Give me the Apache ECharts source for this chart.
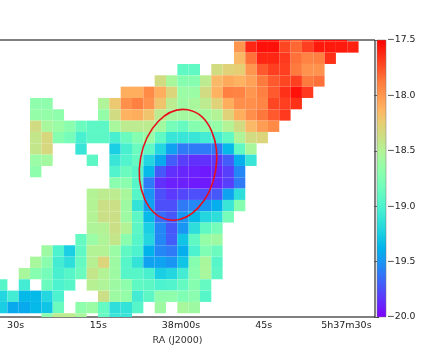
<!DOCTYPE html>
<html>
<head>
<meta charset="utf-8">
<script src="https://cdn.jsdelivr.net/npm/echarts@6/dist/echarts.min.js"></script>
<style>
  html, body { margin: 0; padding: 0; background: #fff; }
  #main { width: 436px; height: 357px; }
</style>
</head>
<body>
<div id="main"></div>
<script>
//first filled column of each row, first row is the one cut off by the top of the frame
var rowFirstRow = -1;
var rowStart = [23, 21, 21, 16, 14, 11, 3, 3, 3, 3, 3, 3, 3, 10, 8, 8, 8, 8, 7, 4, 3, 2, 0, 0, 0, 4];

//column density per cell, null = nothing measured
var rowValues = [
  [-17.55, -17.55, -17.72, -17.8, -17.7, -17.55, -17.55, -17.55],
  [-18.0, -17.62, -17.55, -17.55, -17.72, -17.82, -17.7, -17.58, -17.58, -17.58, -17.6],
  [-18.15, -17.85, -17.62, -17.62, -17.68, -17.85, -17.92, -17.9, -17.65],
  [-18.9, -18.9, null, -18.35, -18.28, -18.25, -18.0, -17.78, -17.7, -17.7, -17.88, -17.98, -17.98],
  [-18.35, -18.55, -18.72, -18.72, -18.45, -18.15, -18.08, -18.12, -18.05, -17.88, -17.78, -17.72, -17.7, -17.88, -17.85],
  [-18.1, -18.1, -17.95, -18.1, -18.3, -18.62, -18.62, -18.35, -18.12, -17.9, -17.92, -18.0, -17.9, -17.78, -17.65, -17.55, -17.68],
  [-18.68, -18.68, null, null, null, null, -18.52, -18.22, -17.97, -17.9, -17.98, -18.2, -18.45, -18.6, -18.55, -18.45, -18.28, -18.1, -17.97, -17.97, -17.93, -17.72, -17.7, -17.65],
  [-18.65, -18.65, -18.68, null, null, null, -18.65, -18.35, -18.12, -18.1, -18.2, -18.45, -18.55, -18.58, -18.55, -18.58, -18.5, -18.28, -18.1, -17.97, -17.87, -17.78, -17.68],
  [-18.35, -18.55, -18.62, -18.7, -18.85, -18.92, -18.92, -18.55, -18.45, -18.45, -18.45, -18.58, -18.8, -18.87, -18.72, -18.68, -18.65, -18.5, -18.35, -18.15, -18.03, -17.95],
  [-18.42, -18.32, -18.72, -18.8, -19.02, -18.92, -18.92, -19.02, -18.85, -18.72, -18.62, -18.9, -19.1, -19.1, -19.1, -19.05, -19.05, -18.9, -18.52, -18.35, -18.3],
  [-18.42, -18.32, null, null, -19.1, null, null, -19.25, -19.02, -18.85, -18.9, -19.2, -19.45, -19.6, -19.6, -19.6, -19.6, -19.35, -18.9, -18.55],
  [-18.62, -18.58, null, null, null, -18.92, null, -19.1, -18.98, -18.88, -19.2, -19.42, -19.7, -19.8, -19.85, -19.85, -19.82, -19.7, -19.4, -19.1],
  [-18.68, null, null, null, null, null, null, -18.98, -18.85, -18.95, -19.35, -19.72, -19.85, -19.88, -19.9, -19.92, -19.88, -19.8, -19.55],
  [-18.7, -18.7, -18.95, -19.6, -19.85, -19.9, -19.9, -19.92, -19.92, -19.88, -19.8, -19.6],
  [-18.5, -18.45, -18.45, -18.55, -18.95, -19.5, -19.75, -19.82, -19.78, -19.75, -19.75, -19.72, -19.45, -19.15],
  [-18.5, -18.38, -18.38, -18.6, -19.12, -19.45, -19.75, -19.75, -19.6, -19.55, -19.5, -19.4, -19.1, -18.72],
  [-18.5, -18.38, -18.38, -18.6, -18.92, -19.35, -19.65, -19.72, -19.5, -19.35, -19.2, -19.15, -18.8],
  [-18.52, -18.5, -18.38, -18.5, -18.92, -19.25, -19.55, -19.72, -19.5, -19.15, -18.9, -18.8],
  [-18.88, -18.62, -18.52, -18.42, -18.7, -18.95, -19.2, -19.55, -19.7, -19.3, -18.9, -18.65, -18.6],
  [-18.6, -19.0, -19.25, -18.9, -18.5, -18.5, -18.62, -18.9, -19.0, -19.38, -19.55, -19.6, -19.4, -19.0, -18.75, -18.85],
  [-18.55, -18.7, -19.05, -19.15, -18.88, -18.48, -18.3, -18.6, -18.95, -19.12, -19.45, -19.45, -19.5, -19.3, -18.72, -18.55, -18.95],
  [-18.55, -18.72, -18.8, -19.02, -18.95, -18.85, -18.42, -18.5, -18.6, -18.95, -18.95, -19.02, -19.25, -19.2, -19.05, -18.7, -18.55, -18.92],
  [-18.95, null, -19.05, null, -18.85, -19.0, -18.95, null, -18.48, -18.52, -18.6, -18.68, -18.9, -18.92, -19.0, -18.98, -18.88, -18.72, -18.88],
  [-19.2, -19.05, -19.35, -19.35, -19.2, -19.0, null, null, null, -18.38, -18.6, -18.65, -19.05, -18.92, -18.68, -18.68, -18.75, -18.7, -18.95],
  [-19.25, -19.42, -19.42, -19.35, -19.3, -18.85, null, -18.68, -18.62, -18.88, -19.15, -19.12, -18.95, null, -18.6, null, -18.55, -18.6],
  [-18.7, -18.45, -18.45, -18.55, null, -18.88, -19.1, -19.1]
];

//RA 坐标轴，以 5h38m00s 为 0，单位秒，向右减小
var raTicks = [30, 15, 0, -15, -30];
var raTickLabels = ['30s', '15s', '38m00s', '45s', '5h37m30s'];
var raLeftEdge = 33.55;
var raPerColumn = 2.055;

var colorTicks = [-17.5, -18, -18.5, -19, -19.5, -20];

//旋转椭圆：RA 秒、行号、半轴（列宽/行高）、旋转角
var ellipseCenter = [0.54, 10.9];
var ellipseRadius = [3.36, 4.93];
var ellipseTilt = -10;

var rainbow = ['#8000ff', '#6628fe', '#4d4ffb', '#3373f8', '#1996f3', '#00b4eb', '#1acee3', '#33e2d8', '#4df3ce', '#66fac0',
  '#80ffb4', '#99fca5', '#b3f396', '#ccdf85', '#e6ce74', '#ffb462', '#ff964f', '#ff7a3c', '#ff4f28', '#ff2814', '#ff0000'];

var cells = [];
rowValues.forEach(function (vals, i) {
  vals.forEach(function (v, j) {
    if (v === null) return;
    var col = rowStart[i] + j;
    cells.push([raLeftEdge - col * raPerColumn, rowFirstRow + i, v]);
  });
});

function renderCell(params, api) {
  var start = api.coord([api.value(0), api.value(1)]);
  var end = api.coord([api.value(0) - raPerColumn, api.value(1) + 1]);
  var rect = echarts.graphic.clipRectByRect({
    x: start[0], y: start[1], width: end[0] - start[0], height: end[1] - start[1]
  }, params.coordSys);
  return rect && {
    type: 'rect',
    shape: rect,
    style: { fill: api.visual('color') }
  };
}

function renderEllipse(params, api) {
  var c = api.coord([api.value(0), api.value(1)]);
  var s = api.size([raPerColumn, 1]);
  return {
    type: 'ellipse',
    x: c[0], y: c[1],
    rotation: api.value(2) * Math.PI / 180,
    shape: { cx: 0, cy: 0, rx: ellipseRadius[0] * s[0], ry: ellipseRadius[1] * s[1] },
    style: { fill: 'none', stroke: '#e8101c', lineWidth: 1.6 }
  };
}

//色标：用 rainbow 做渐变，位置由第二个 grid 决定
function renderBar(params, api) {
  var top = api.coord([0, colorTicks[0]]);
  var bottom = api.coord([1, colorTicks[colorTicks.length - 1]]);
  var stops = rainbow.map(function (c, i) {
    return { offset: 1 - i / (rainbow.length - 1), color: c };
  }).reverse();
  return {
    type: 'rect',
    shape: { x: top[0], y: top[1], width: bottom[0] - top[0], height: bottom[1] - top[1] },
    style: { fill: new echarts.graphic.LinearGradient(0, 0, 0, 1, stops), stroke: '#777', lineWidth: 0.5 }
  };
}

var font = 'DejaVu Sans';
var chart = echarts.init(document.getElementById('main'), null, { renderer: 'canvas' });
chart.setOption({
  animation: false,
  textStyle: { fontFamily: font },
  grid: [
    { left: -2, top: 40, width: 377, height: 277, show: true, backgroundColor: '#fff', borderColor: '#000', borderWidth: 1, outerBoundsMode: 'none' },
    { left: 377, top: 40, width: 9, height: 277, outerBoundsMode: 'none' }
  ],
  xAxis: [
    {
      type: 'value', gridIndex: 0, inverse: true, min: -35.19, max: 33.2,
      name: 'RA (J2000)', nameLocation: 'middle', nameGap: 15,
      nameTextStyle: { fontSize: 9.5, color: '#333', fontFamily: font, padding: [0, 18, 0, 0] },
      axisLine: { show: false }, axisTick: { show: false }, splitLine: { show: false },
      axisLabel: {
        customValues: raTicks, fontSize: 9.5, color: '#222', margin: 4, fontFamily: font,
        formatter: function (v) { return raTickLabels[raTicks.indexOf(v)]; }
      }
    },
    { type: 'value', gridIndex: 1, min: 0, max: 1, show: false }
  ],
  yAxis: [
    { type: 'value', gridIndex: 0, inverse: true, min: -0.115, max: 24.33, show: false },
    {
      type: 'value', gridIndex: 1, position: 'right', min: -20, max: -17.5,
      axisLine: { show: false }, splitLine: { show: false },
      axisTick: { show: true, customValues: colorTicks, length: 2, lineStyle: { color: '#333', width: 1 } },
      axisLabel: {
        customValues: colorTicks, fontSize: 9.3, color: '#222', margin: 1, fontFamily: font,
        formatter: function (v) { return '\u2212' + Math.abs(v).toFixed(1); }
      }
    },
    {
      type: 'value', gridIndex: 1, position: 'left', min: -20, max: -17.5,
      axisLine: { show: false }, splitLine: { show: false }, axisLabel: { show: false },
      axisTick: { show: true, customValues: colorTicks, length: 3, lineStyle: { color: '#555', width: 1 } }
    }
  ],
  visualMap: {
    type: 'continuous', show: false, seriesIndex: 0, dimension: 2, min: -20, max: -17.5,
    inRange: { color: rainbow }
  },
  series: [
    {
      type: 'custom', xAxisIndex: 0, yAxisIndex: 0, renderItem: renderCell,
      encode: { x: 0, y: 1 }, data: cells, silent: true, z: 2
    },
    {
      type: 'custom', xAxisIndex: 0, yAxisIndex: 0, renderItem: renderEllipse,
      encode: { x: 0, y: 1 }, data: [[ellipseCenter[0], ellipseCenter[1], ellipseTilt]], silent: true, z: 3
    },
    {
      type: 'custom', xAxisIndex: 1, yAxisIndex: 1, renderItem: renderBar,
      data: [[0, colorTicks[0]]], silent: true, z: 2
    }
  ]
});
</script>
</body>
</html>
